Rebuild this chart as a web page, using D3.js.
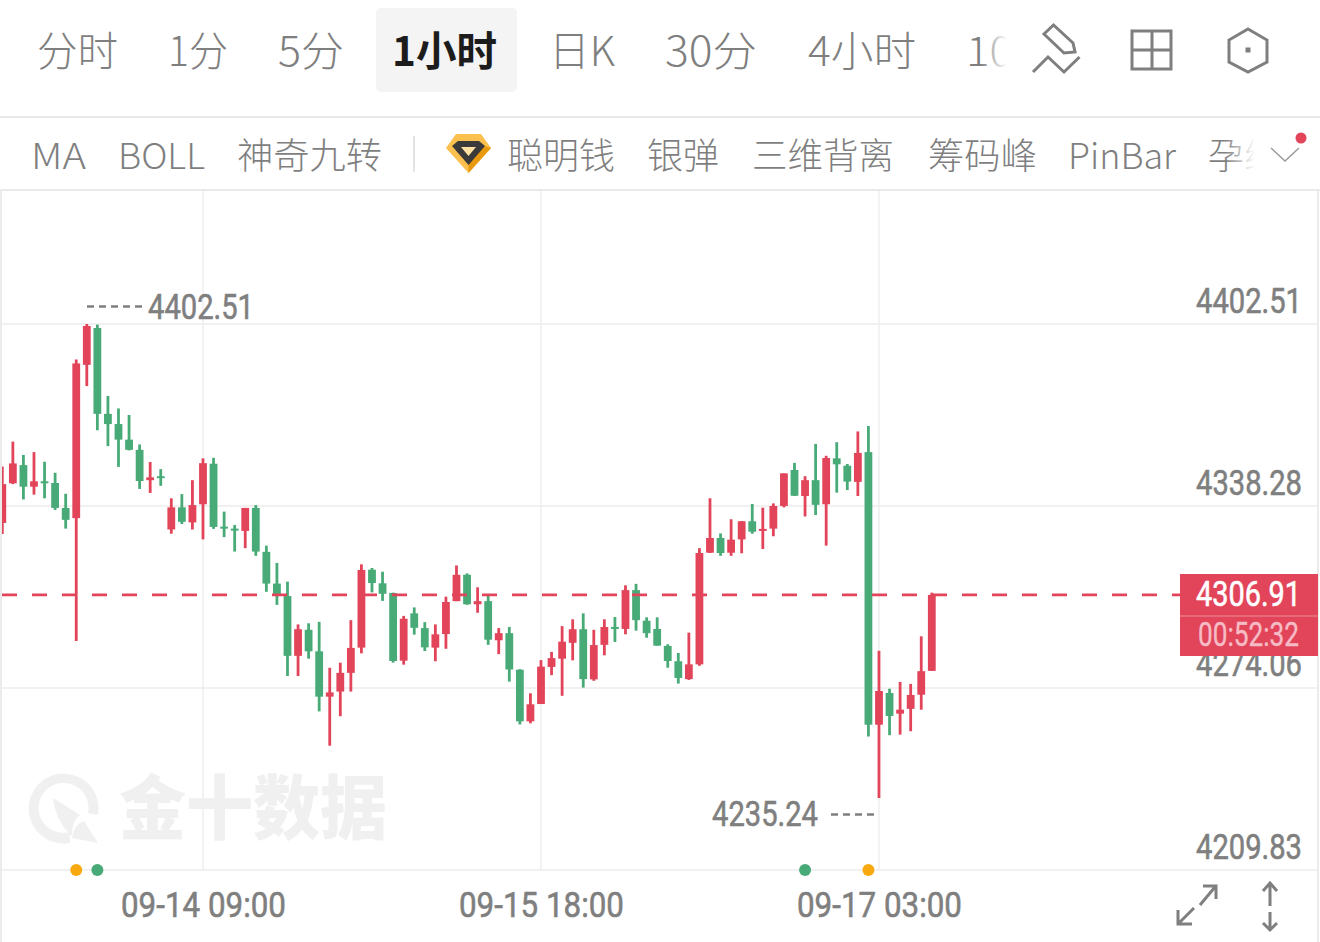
<!DOCTYPE html>
<html>
<head>
<meta charset="utf-8">
<script src="https://d3js.org/d3.v7.min.js"></script>
<style>
html, body { margin: 0; padding: 0; background: #fff; }
svg { display: block; }
</style>
</head>
<body>
<div id="chart"></div>
<script>
/* 1 hour bars */
var opens = [4332.3,4346.3,4352.7,4345.1,4347.0,4346.4,4337.6,4334.0,4388.1,4401.1,
  4370.8,4367.2,4361.7,4358.1,4347.4,4348.8,4330.0,4337.8,4332.5,4338.9,
  4353.2,4331.0,4330.3,4329.5,4337.6,4322.1,4310.9,4306.5,4285.4,4294.6,
  4287.0,4271.0,4272.8,4279.4,4288.3,4315.8,4311.0,4307.6,4283.7,4300.4,
  4295.2,4288.3,4293.1,4304.7,4314.0,4303.6,4304.7,4290.9,4293.4,4280.5,
  4262.3,4268.4,4281.5,4284.4,4290.0,4294.8,4277.1,4289.3,4295.6,4294.9,
  4308.6,4297.8,4294.9,4288.9,4283.5,4277.2,4282.4,4321.8,4327.0,4321.8,
  4326.5,4332.9,4329.5,4330.3,4338.3,4351.0,4341.8,4347.4,4338.9,4355.1,
  4352.5,4346.8,4357.3,4261.1,4272.3,4265.0,4266.7,4271.7,4280.1];
var closes = [4346.0,4353.3,4345.1,4347.0,4346.4,4337.6,4333.4,4388.6,4401.8,4370.8,
  4367.2,4361.7,4358.1,4347.1,4348.4,4348.1,4337.8,4332.7,4338.6,4353.4,
  4330.9,4330.5,4329.7,4337.6,4322.2,4310.9,4307.1,4285.4,4294.8,4287.0,
  4271.0,4272.5,4279.4,4288.2,4315.7,4311.1,4307.3,4283.6,4298.5,4295.3,
  4288.4,4293.0,4304.4,4314.0,4303.6,4304.7,4291.1,4293.4,4280.6,4262.3,
  4268.3,4281.6,4284.6,4290.4,4294.8,4277.2,4289.2,4295.6,4295.0,4308.6,
  4298.0,4293.4,4289.0,4283.6,4277.6,4282.4,4321.7,4327.0,4321.7,4326.4,
  4332.9,4329.2,4330.2,4338.3,4349.8,4341.9,4347.4,4338.7,4355.2,4353.0,
  4346.9,4357.0,4261.1,4273.0,4264.2,4266.4,4271.6,4280.0,4306.91];
var highs = [4352.2,4361.0,4356.3,4357.3,4353.9,4350.0,4342.6,4390.0,4402.51,4402.3,
  4377.1,4372.7,4370.4,4360.0,4353.8,4351.3,4341.0,4342.5,4347.4,4355.1,
  4355.3,4336.3,4331.6,4337.6,4338.6,4324.3,4318.2,4311.6,4296.5,4296.9,
  4297.4,4281.2,4283.0,4298.0,4317.7,4316.4,4315.1,4307.7,4299.5,4302.5,
  4297.3,4296.5,4306.3,4317.3,4314.5,4309.6,4307.2,4295.2,4295.6,4280.7,
  4272.2,4283.9,4286.8,4295.9,4298.3,4300.4,4294.6,4298.3,4299.1,4310.3,
  4310.8,4299.0,4299.0,4289.5,4286.4,4293.6,4323.4,4341.0,4328.6,4333.6,
  4333.0,4339.0,4337.7,4339.2,4349.8,4353.5,4348.8,4360.2,4356.0,4360.8,
  4353.1,4364.6,4366.5,4287.2,4273.8,4276.2,4275.5,4292.3,4307.7];
var lows = [4328.4,4346.0,4340.6,4342.3,4341.0,4336.9,4330.3,4290.6,4380.6,4365.0,
  4359.4,4352.1,4357.9,4344.3,4342.9,4345.4,4328.5,4331.9,4330.0,4326.5,
  4330.2,4327.3,4322.2,4323.4,4320.7,4308.0,4303.4,4278.3,4278.3,4284.4,
  4265.8,4253.7,4264.1,4272.8,4286.3,4307.8,4304.8,4283.0,4282.3,4292.9,
  4287.1,4283.5,4287.9,4304.7,4303.4,4300.6,4289.3,4286.0,4276.3,4261.2,
  4261.6,4268.4,4278.6,4271.3,4283.8,4274.2,4276.6,4285.6,4290.3,4293.0,
  4294.3,4291.8,4289.0,4281.2,4275.6,4276.9,4281.9,4321.7,4320.7,4320.7,
  4321.6,4328.5,4323.1,4327.6,4337.8,4341.8,4334.6,4335.1,4324.3,4343.0,
  4343.9,4341.8,4256.9,4235.24,4257.4,4257.6,4258.8,4266.4,4280.1];

var priceTicks = [4402.51, 4338.28, 4274.06, 4209.83];
var timeTickBars = [19, 51, 83];
var timeTickLabels = ["09-14 09:00", "09-15 18:00", "09-17 03:00"];
var orangeMarks = [7, 82];
var greenMarks = [9, 76];
var lastPrice = 4306.91;
var countdown = "00:52:32";
var periods = ["分时", "1分", "5分", "1小时", "日K", "30分", "4小时", "10"];
var periodX = [37, 168, 278, 392, 549, 665, 808, 966];
var periodW = [81, 60, 66, 105, 66, 92, 108, 47];
var indicators = ["MA", "BOLL", "神奇九转", "聪明钱", "银弹", "三维背离", "筹码峰", "PinBar", "孕线"];
var indicatorX = [31, 118, 237, 507, 647, 752, 928, 1068, 1208];
var indicatorW = [55, 87, 145, 108, 72, 142, 109, 108, 72];

var RED = "#e2445a", GREEN = "#48ab77", GREY = "#7f7f7f", LINE = "#f1f1f1";
var NUM_FONT = "'Liberation Sans Narrow','Roboto','DejaVu Sans Condensed',sans-serif";
var CJK_FONT = "'Noto Sans CJK SC','Noto Sans',sans-serif";

var svg = d3.select("#chart").append("svg").attr("width", 1320).attr("height", 942);

var x = d3.scaleLinear().domain([0, opens.length - 1]).range([2.3, 931.8]);
var y = d3.scaleLinear().domain([4209.83, 4402.51]).range([870, 324]);

/* fade for clipped labels */
var defs = svg.append("defs");
var grad = defs.append("linearGradient").attr("id", "fadeout");
grad.append("stop").attr("offset", 0).attr("stop-color", "#fff").attr("stop-opacity", 0);
grad.append("stop").attr("offset", 1).attr("stop-color", "#fff").attr("stop-opacity", 1);
defs.append("clipPath").attr("id", "plot").append("rect")
  .attr("x", 2).attr("y", 191).attr("width", 1316).attr("height", 680);

/* frame */
svg.append("rect").attr("x", 0).attr("y", 191).attr("width", 2).attr("height", 751).attr("fill", "#ebebeb");
svg.append("rect").attr("x", 1317).attr("y", 191).attr("width", 2).attr("height", 751).attr("fill", "#ebebeb");
[117, 190].forEach(function(v) {
  svg.append("rect").attr("x", 0).attr("y", v - 1).attr("width", 1320).attr("height", 2).attr("fill", "#e9e9e9");
});

/* grid */
var grid = svg.append("g").attr("class", "grid");
grid.selectAll("line.h").data(priceTicks).enter().append("line").attr("class", "h")
  .attr("x1", 2).attr("x2", 1318)
  .attr("y1", function(d) { return y(d); }).attr("y2", function(d) { return y(d); })
  .attr("stroke", LINE).attr("stroke-width", 2);
grid.selectAll("line.v").data(timeTickBars).enter().append("line").attr("class", "v")
  .attr("x1", function(d) { return x(d); }).attr("x2", function(d) { return x(d); })
  .attr("y1", 191).attr("y2", 870)
  .attr("stroke", "#efefef").attr("stroke-width", 1.5);

/* watermark */
var wm = svg.append("g").attr("fill", "#f0f0f0");
wm.append("path").attr("d", "M70 843 A35 35 0 1 1 98 815 L88 813 A25 25 0 1 0 70 832 Z");
wm.append("path").attr("d", "M53 798 L80 815 Q72 820 72 836 Q56 822 53 798 Z");
wm.append("path").attr("d", "M84 821 L98 843 L72 838 Q74 824 84 821 Z");
wm.append("text").attr("x", 119).attr("y", 834)
  .attr("font-family", CJK_FONT).attr("font-weight", 900).attr("font-size", 70)
  .attr("textLength", 268).attr("lengthAdjust", "spacingAndGlyphs")
  .text("金十数据");

/* candles */
var bars = d3.range(opens.length);
var candles = svg.append("g").attr("class", "candles").attr("clip-path", "url(#plot)");
function barColor(i) { return closes[i] >= opens[i] ? RED : GREEN; }
candles.selectAll("line").data(bars).enter().append("line")
  .attr("x1", function(i) { return x(i); }).attr("x2", function(i) { return x(i); })
  .attr("y1", function(i) { return y(highs[i]); }).attr("y2", function(i) { return y(lows[i]); })
  .attr("stroke", barColor).attr("stroke-width", 2.8);
candles.selectAll("rect").data(bars).enter().append("rect")
  .attr("x", function(i) { return x(i) - 3.9; })
  .attr("width", 7.8)
  .attr("y", function(i) { return y(Math.max(opens[i], closes[i])); })
  .attr("height", function(i) { return Math.max(2, Math.abs(y(opens[i]) - y(closes[i]))); })
  .attr("fill", barColor);

/* last price line */
svg.append("line")
  .attr("x1", 2).attr("x2", 1180)
  .attr("y1", y(lastPrice)).attr("y2", y(lastPrice))
  .attr("stroke", RED).attr("stroke-width", 2.8).attr("stroke-dasharray", "15 15");

/* event dots on the bottom line */
svg.selectAll("circle.orange").data(orangeMarks).enter().append("circle").attr("class", "orange")
  .attr("cx", function(d) { return x(d); }).attr("cy", y(4209.83)).attr("r", 6).attr("fill", "#f8a90f");
svg.selectAll("circle.green").data(greenMarks).enter().append("circle").attr("class", "green")
  .attr("cx", function(d) { return x(d); }).attr("cy", y(4209.83)).attr("r", 6).attr("fill", GREEN);

/* axes */
var yAxis = d3.axisLeft(y).tickValues(priceTicks).tickSize(0).tickPadding(0).tickFormat(d3.format(".2f"));
var yG = svg.append("g").attr("transform", "translate(1302,0)").call(yAxis);
yG.select(".domain").remove();
yG.selectAll("text")
  .attr("y", -12).attr("dy", 0)
  .attr("fill", GREY).attr("stroke", GREY).attr("stroke-width", 0.6)
  .style("font-family", NUM_FONT).style("font-size", "35px")
  .attr("textLength", 106).attr("lengthAdjust", "spacingAndGlyphs");

var xAxis = d3.axisBottom(x).tickValues(timeTickBars).tickSize(0).tickPadding(0)
  .tickFormat(function(d, i) { return timeTickLabels[i]; });
var xG = svg.append("g").attr("transform", "translate(0,892)").call(xAxis);
xG.select(".domain").remove();
xG.selectAll("text")
  .attr("y", 25).attr("dy", 0)
  .attr("fill", GREY).attr("stroke", GREY).attr("stroke-width", 0.6)
  .style("font-family", NUM_FONT).style("font-size", "35px")
  .attr("textLength", 165).attr("lengthAdjust", "spacingAndGlyphs");

/* high / low notes */
function note(txt, tx, barY, baseline, x1, x2) {
  svg.append("line").attr("x1", x1).attr("x2", x2).attr("y1", barY).attr("y2", barY)
    .attr("stroke", GREY).attr("stroke-width", 2.4).attr("stroke-dasharray", "7 5");
  svg.append("text").attr("x", tx).attr("y", baseline)
    .attr("fill", GREY).attr("stroke", GREY).attr("stroke-width", 0.6)
    .attr("font-family", NUM_FONT).attr("font-size", 35)
    .attr("textLength", 106).attr("lengthAdjust", "spacingAndGlyphs")
    .text(txt);
}
note(d3.max(highs).toFixed(2), 148, 306.5, 319, 87, 142);
note(d3.min(lows).toFixed(2), 712, 814.5, 826, 831, 875);

/* last price tag */
svg.append("rect").attr("x", 1180).attr("y", 574).attr("width", 138).attr("height", 82).attr("fill", RED);
svg.append("line").attr("x1", 1180).attr("x2", 1318).attr("y1", 616).attr("y2", 616)
  .attr("stroke", "#ee8e9b").attr("stroke-width", 1);
svg.append("text").attr("x", 1196).attr("y", 606).attr("fill", "#fff")
  .attr("stroke", "#fff").attr("stroke-width", 0.6)
  .attr("font-family", NUM_FONT).attr("font-size", 35)
  .attr("textLength", 105).attr("lengthAdjust", "spacingAndGlyphs")
  .text(lastPrice.toFixed(2));
svg.append("text").attr("x", 1198).attr("y", 646).attr("fill", "#f6bcc5")
  .attr("stroke", "#f6bcc5").attr("stroke-width", 0.4)
  .attr("font-family", NUM_FONT).attr("font-size", 33)
  .attr("textLength", 101).attr("lengthAdjust", "spacingAndGlyphs")
  .text(countdown);

/* period tabs */
svg.append("rect").attr("x", 376).attr("y", 8).attr("width", 141).attr("height", 84).attr("rx", 5).attr("fill", "#f4f4f4");
svg.selectAll("text.period").data(periods).enter().append("text").attr("class", "period")
  .attr("x", function(d, i) { return periodX[i]; }).attr("y", 66)
  .attr("font-family", CJK_FONT).attr("font-size", 41)
  .attr("font-weight", function(d) { return d == "1小时" ? 700 : 300; })
  .attr("fill", function(d) { return d == "1小时" ? "#1c1c1c" : GREY; })
  .attr("textLength", function(d, i) { return periodW[i]; }).attr("lengthAdjust", "spacingAndGlyphs")
  .text(function(d) { return d; });
svg.append("rect").attr("x", 980).attr("y", 20).attr("width", 27).attr("height", 60).attr("fill", "url(#fadeout)");
svg.append("rect").attr("x", 1007).attr("y", 20).attr("width", 24).attr("height", 60).attr("fill", "#fff");

/* toolbar icons */
var icons = svg.append("g").attr("fill", "none").attr("stroke", GREY).attr("stroke-width", 3);
icons.append("path").attr("d", "M1053.5 25 L1044 34 L1064 53 L1075 52 L1073 43 Z");
icons.append("path").attr("d", "M1033 72 L1048 57 L1064 72 L1079.5 57");
icons.append("rect").attr("x", 1132).attr("y", 31).attr("width", 39).attr("height", 38);
icons.append("path").attr("d", "M1152 31 V69 M1132 50 H1171");
icons.append("path").attr("d", "M1248 29 L1267 40 V62 L1248 72 L1229 62 V40 Z");
svg.append("rect").attr("x", 1245.5).attr("y", 47.5).attr("width", 5).attr("height", 5).attr("fill", GREY);

/* indicator row */
svg.selectAll("text.indicator").data(indicators).enter().append("text").attr("class", "indicator")
  .attr("x", function(d, i) { return indicatorX[i]; }).attr("y", 169)
  .attr("font-family", CJK_FONT).attr("font-size", 36).attr("font-weight", 300)
  .attr("fill", GREY)
  .attr("textLength", function(d, i) { return indicatorW[i]; }).attr("lengthAdjust", "spacingAndGlyphs")
  .text(function(d) { return d; });
svg.append("rect").attr("x", 1225).attr("y", 130).attr("width", 30).attr("height", 50).attr("fill", "url(#fadeout)");
svg.append("rect").attr("x", 1255).attr("y", 130).attr("width", 60).attr("height", 50).attr("fill", "#fff");
svg.append("rect").attr("x", 413).attr("y", 136).attr("width", 2).attr("height", 36).attr("fill", "#e4e4e4");

/* diamond badge */
svg.append("path").attr("d", "M456 134 H481 L491 148 L468.5 173 L446 148 Z").attr("fill", "#fbc04d");
svg.append("path").attr("d", "M468.5 173 L491 148 L484 146 L468.5 163 Z").attr("fill", "#e8990e");
svg.append("path").attr("d", "M452 146 L458 141 H479 L485 146 L468.5 165 Z").attr("fill", "#3a3a3a");
svg.append("path").attr("d", "M461 147 H476 L468.5 156 Z").attr("fill", "#fde2a3");

svg.append("path").attr("d", "M1271 148 L1285 161 L1299 148").attr("fill", "none").attr("stroke", "#9a9a9a").attr("stroke-width", 1.5);
svg.append("circle").attr("cx", 1301).attr("cy", 138).attr("r", 5.5).attr("fill", RED);

/* corner buttons */
var corner = svg.append("g").attr("fill", "none").attr("stroke", GREY).attr("stroke-width", 3);
corner.append("path").attr("d", "M1200 905 L1215 887 M1203 886 H1216 V899");
corner.append("path").attr("d", "M1194 908 L1179 923 M1178 910 V924 H1192");
corner.append("path").attr("d", "M1270 883 V906 M1263 891 L1270 883 L1277 891");
corner.append("path").attr("d", "M1270 912 V930 M1263 923 L1270 930 L1277 923");
</script>
</body>
</html>
